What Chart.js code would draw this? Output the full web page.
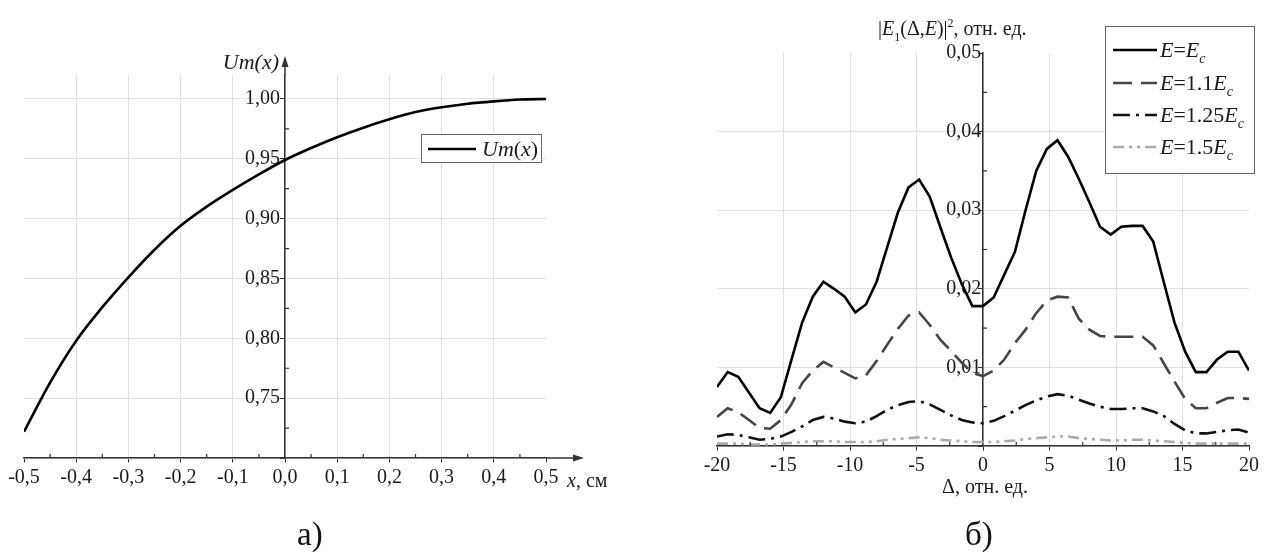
<!DOCTYPE html>
<html>
<head>
<meta charset="utf-8">
<script src="https://cdn.jsdelivr.net/npm/chart.js@4"></script>
<style>
  html, body { margin: 0; padding: 0; background: #fff; }
  #page { position: relative; width: 1274px; height: 560px; overflow: hidden; background: #fff;
          font-family: "Liberation Serif", "Times New Roman", serif; color: #111; }
  .box { position: absolute; top: 0; width: 637px; height: 560px; }
  #boxA { left: 0; }
  #boxB { left: 637px; }
  .cap { position: absolute; font-size: 33px; line-height: 1; }
</style>
</head>
<body>
<div id="page">
  <div class="box" id="boxA"><canvas id="chartA"></canvas></div>
  <div class="box" id="boxB"><canvas id="chartB"></canvas></div>
  <div class="cap" style="left:297px; top:518px;">а)</div>
  <div class="cap" style="left:965px; top:518px;">б)</div>
</div>
<script>
// ---------- данные, рисунок а) ----------
const xA = [-0.5, -0.45, -0.4, -0.35, -0.3, -0.25, -0.2, -0.15, -0.1, -0.05, 0,
            0.05, 0.1, 0.15, 0.2, 0.25, 0.3, 0.35, 0.4, 0.45, 0.5];
const umA = [0.722, 0.763, 0.798, 0.826, 0.851, 0.874, 0.894, 0.910, 0.924, 0.937, 0.949,
             0.959, 0.968, 0.976, 0.983, 0.989, 0.993, 0.996, 0.998, 0.9995, 1.000];

// ---------- данные, рисунок б) ----------
const deltaB = [-20, -19.2, -18.4, -17.6, -16.8, -16, -15.2, -14.4, -13.6, -12.8,
                -12, -11.2, -10.4, -9.6, -8.8, -8, -7.2, -6.4, -5.6, -4.8,
                -4, -3.2, -2.4, -1.6, -0.8, 0, 0.8, 1.6, 2.4, 3.2,
                4, 4.8, 5.6, 6.4, 7.2, 8, 8.8, 9.6, 10.4, 11.2,
                12, 12.8, 13.6, 14.4, 15.2, 16, 16.8, 17.6, 18.4, 19.2, 20];
const eC = [0.0075, 0.0094, 0.0088, 0.0068, 0.0048, 0.0042, 0.0062, 0.0110, 0.0157, 0.0190,
            0.0209, 0.0200, 0.0190, 0.0170, 0.0180, 0.0209, 0.0253, 0.0297, 0.0329, 0.0339,
            0.0317, 0.0278, 0.0240, 0.0206, 0.0178, 0.0178, 0.0189, 0.0218, 0.0247, 0.0300,
            0.0350, 0.0378, 0.0389, 0.0368, 0.0340, 0.0310, 0.0279, 0.0269, 0.0279, 0.0280,
            0.0280, 0.0260, 0.0208, 0.0157, 0.0120, 0.0094, 0.0094, 0.0110, 0.0120, 0.0120, 0.0096];
const e11 = [0.0037, 0.0048, 0.0043, 0.0033, 0.0023, 0.0022, 0.0033, 0.0053, 0.0080, 0.0096,
             0.0107, 0.0100, 0.0093, 0.0086, 0.0090, 0.0108, 0.0129, 0.0149, 0.0166, 0.0170,
             0.0154, 0.0135, 0.0121, 0.0106, 0.0093, 0.0089, 0.0096, 0.0110, 0.0131, 0.0148,
             0.0169, 0.0185, 0.0190, 0.0189, 0.0162, 0.0148, 0.0140, 0.0139, 0.0139, 0.0139,
             0.0139, 0.0128, 0.0105, 0.0082, 0.0060, 0.0048, 0.0048, 0.0055, 0.0061, 0.0061, 0.0060];
const e125 = [0.0012, 0.0015, 0.0014, 0.0011, 0.0008, 0.0009, 0.0012, 0.0018, 0.0025, 0.0033,
              0.0037, 0.0035, 0.0031, 0.0029, 0.0031, 0.0038, 0.0046, 0.0052, 0.0056, 0.0057,
              0.0053, 0.0046, 0.0039, 0.0033, 0.0030, 0.0029, 0.0032, 0.0038, 0.0045, 0.0052,
              0.0058, 0.0063, 0.0066, 0.0064, 0.0059, 0.0054, 0.0050, 0.0047, 0.0047, 0.0048,
              0.0048, 0.0044, 0.0038, 0.0028, 0.0020, 0.0016, 0.0016, 0.0018, 0.0020, 0.0021, 0.0017];
const e15 = [0.0003, 0.0003, 0.0003, 0.0002, 0.0002, 0.0002, 0.0003, 0.0004, 0.0005, 0.0006,
             0.0006, 0.0006, 0.0005, 0.0005, 0.0005, 0.0006, 0.0008, 0.0009, 0.0010, 0.0011,
             0.0010, 0.0008, 0.0007, 0.0006, 0.0005, 0.0005, 0.0005, 0.0006, 0.0007, 0.0009,
             0.0010, 0.0011, 0.0012, 0.0012, 0.0010, 0.0009, 0.0008, 0.0007, 0.0007, 0.0008,
             0.0008, 0.0007, 0.0006, 0.0005, 0.0004, 0.0003, 0.0003, 0.0003, 0.0003, 0.0003, 0.0003];

const SERIF = "'Liberation Serif', 'Times New Roman', serif";
const AXIS = '#333';
const GRID = '#e0e0e0';
const TXT = '#1a1a1a';

Chart.defaults.font.family = SERIF;
Chart.defaults.font.size = 20;
Chart.defaults.color = TXT;

const comma = (v, d) => (Math.abs(v) < 1e-9 ? 0 : v).toFixed(d).replace('.', ',');
const near = (a, b) => Math.abs(a - b) < 1e-9;

// текст с курсивом, индексами и степенями
function richText(ctx, x, y, parts, size, align) {
  const fontOf = p => {
    const s = (p.sub || p.sup) ? Math.round(size * 0.62) : size;
    return (p.i ? 'italic ' : '') + s + 'px ' + SERIF;
  };
  let w = 0;
  parts.forEach(p => { ctx.font = fontOf(p); w += ctx.measureText(p.t).width; });
  let cx = align === 'right' ? x - w : align === 'center' ? x - w / 2 : x;
  ctx.textAlign = 'left';
  ctx.textBaseline = 'alphabetic';
  ctx.fillStyle = TXT;
  parts.forEach(p => {
    ctx.font = fontOf(p);
    const dy = p.sub ? size * 0.28 : p.sup ? -size * 0.42 : 0;
    ctx.fillText(p.t, cx, y + dy);
    cx += ctx.measureText(p.t).width;
  });
}

// мелкие засечки между подписанными делениями
function minorTicks(ctx, chart, len) {
  const xs = chart.scales.x, ys = chart.scales.y;
  const ax = xs.getPixelForValue(0);
  const ay = ys.bottom;
  ctx.save();
  ctx.strokeStyle = AXIS;
  ctx.lineWidth = 1.2;
  ctx.beginPath();
  for (let i = 0; i < xs.ticks.length - 1; i++) {
    const px = xs.getPixelForValue((xs.ticks[i].value + xs.ticks[i + 1].value) / 2);
    ctx.moveTo(px, ay); ctx.lineTo(px, ay - len);
  }
  for (let i = 0; i < ys.ticks.length - 1; i++) {
    const py = ys.getPixelForValue((ys.ticks[i].value + ys.ticks[i + 1].value) / 2);
    ctx.moveTo(ax, py); ctx.lineTo(ax + len, py);
  }
  ctx.stroke();
  ctx.restore();
}

const decorA = {
  id: 'decorA',
  afterDraw(chart) {
    const ctx = chart.ctx;
    const area = chart.chartArea;
    const ax = chart.scales.x.getPixelForValue(0);
    const ay = area.bottom;
    minorTicks(ctx, chart, 4);
    ctx.save();
    ctx.strokeStyle = AXIS;
    ctx.fillStyle = AXIS;
    ctx.lineWidth = 1.5;
    // продолжение осей и стрелки
    ctx.beginPath();
    ctx.moveTo(ax, area.top); ctx.lineTo(ax, 64);
    ctx.moveTo(area.right, ay); ctx.lineTo(575, ay);
    ctx.stroke();
    ctx.beginPath();
    ctx.moveTo(ax, 56); ctx.lineTo(ax - 3.5, 67); ctx.lineTo(ax + 3.5, 67); ctx.closePath();
    ctx.moveTo(584, ay); ctx.lineTo(573, ay - 3.5); ctx.lineTo(573, ay + 3.5); ctx.closePath();
    ctx.fill();
    ctx.restore();

    richText(ctx, ax - 6, 69, [{ t: 'Um(x)', i: 1 }], 22, 'right');
    richText(ctx, 567, 487, [{ t: 'x', i: 1 }, { t: ', см' }], 20, 'left');

    // легенда
    ctx.save();
    ctx.fillStyle = '#fff';
    ctx.fillRect(421, 134, 120, 28);
    ctx.strokeStyle = '#666';
    ctx.lineWidth = 1;
    ctx.strokeRect(421.5, 134.5, 120, 28);
    const ds = chart.data.datasets[0];
    ctx.strokeStyle = ds.borderColor;
    ctx.lineWidth = ds.borderWidth;
    ctx.beginPath(); ctx.moveTo(428, 149); ctx.lineTo(476, 149); ctx.stroke();
    ctx.restore();
    richText(ctx, 482, 156, [{ t: 'Um', i: 1 }, { t: '(' }, { t: 'x', i: 1 }, { t: ')' }], 22, 'left');
  }
};

const legendB = [
  [{ t: 'E', i: 1 }, { t: '=' }, { t: 'E', i: 1 }, { t: 'c', i: 1, sub: 1 }],
  [{ t: 'E', i: 1 }, { t: '=1.1' }, { t: 'E', i: 1 }, { t: 'c', i: 1, sub: 1 }],
  [{ t: 'E', i: 1 }, { t: '=1.25' }, { t: 'E', i: 1 }, { t: 'c', i: 1, sub: 1 }],
  [{ t: 'E', i: 1 }, { t: '=1.5' }, { t: 'E', i: 1 }, { t: 'c', i: 1, sub: 1 }]
];

const decorB = {
  id: 'decorB',
  afterDraw(chart) {
    const ctx = chart.ctx;
    const ax = chart.scales.x.getPixelForValue(0);
    minorTicks(ctx, chart, 4);

    richText(ctx, 241, 35, [
      { t: '|' }, { t: 'E', i: 1 }, { t: '1', sub: 1 }, { t: '(Δ,' }, { t: 'E', i: 1 },
      { t: ')|' }, { t: '2', sup: 1 }, { t: ', отн. ед.' }
    ], 20, 'left');
    richText(ctx, ax + 2, 493, [{ t: 'Δ, отн. ед.' }], 20, 'center');

    // легенда
    ctx.save();
    ctx.fillStyle = '#fff';
    ctx.fillRect(468, 26, 149, 147);
    ctx.strokeStyle = '#666';
    ctx.lineWidth = 1;
    ctx.strokeRect(468.5, 26.5, 149, 147);
    ctx.restore();
    const rows = [50, 83, 115, 147];
    chart.data.datasets.forEach((ds, i) => {
      ctx.save();
      ctx.strokeStyle = ds.borderColor;
      ctx.lineWidth = ds.borderWidth;
      ctx.setLineDash(ds.borderDash || []);
      ctx.beginPath(); ctx.moveTo(476, rows[i]); ctx.lineTo(520, rows[i]); ctx.stroke();
      ctx.restore();
      richText(ctx, 523, rows[i] + 7, legendB[i], 22, 'left');
    });
  }
};

const chartA = new Chart(document.getElementById('chartA'), {
  type: 'line',
  data: {
    datasets: [{
      label: 'Um(x)',
      data: xA.map((x, i) => ({ x: x, y: umA[i] })),
      borderColor: '#000',
      borderWidth: 2.6,
      pointRadius: 0,
      cubicInterpolationMode: 'monotone',
      fill: false
    }]
  },
  options: {
    responsive: true,
    maintainAspectRatio: false,
    animation: false,
    layout: { padding: { left: 24, right: 91, top: 75, bottom: 102 } },
    plugins: { legend: { display: false }, tooltip: { enabled: false } },
    scales: {
      x: {
        type: 'linear',
        position: { y: 0.70 },
        min: -0.5, max: 0.5,
        ticks: { stepSize: 0.1, padding: 4, maxRotation: 0, callback: v => comma(v, 1) },
        grid: {
          color: c => (c.tick && (near(c.tick.value, -0.5) || near(c.tick.value, 0.5))) ? 'rgba(0,0,0,0)' : GRID,
          tickColor: AXIS, tickLength: 4
        },
        border: { color: AXIS, width: 1.5 }
      },
      y: {
        type: 'linear',
        position: { x: 0 },
        min: 0.70, max: 1.02,
        ticks: {
          stepSize: 0.05, includeBounds: false,
          // метка прижата к оси, отступ даёт пробел в конце
          callback: v => near(v, 0.70) ? '' : comma(v, 2) + ' '
        },
        grid: { color: GRID, tickColor: AXIS, tickLength: 4 },
        border: { color: AXIS, width: 1.5 }
      }
    }
  },
  plugins: [decorA]
});

const seriesB = (vals) => deltaB.map((d, i) => ({ x: d, y: vals[i] }));

const chartB = new Chart(document.getElementById('chartB'), {
  type: 'line',
  data: {
    datasets: [
      { label: 'E=Ec', data: seriesB(eC), borderColor: '#000', borderWidth: 2.6, pointRadius: 0, tension: 0 },
      { label: 'E=1.1Ec', data: seriesB(e11), borderColor: '#454545', borderWidth: 2.6, borderDash: [19, 9], pointRadius: 0, tension: 0 },
      { label: 'E=1.25Ec', data: seriesB(e125), borderColor: '#111', borderWidth: 2.6, borderDash: [17, 6, 3, 6], pointRadius: 0, tension: 0 },
      { label: 'E=1.5Ec', data: seriesB(e15), borderColor: '#aaa', borderWidth: 2.6, borderDash: [11, 5, 3, 5, 3, 5], pointRadius: 0, tension: 0 }
    ]
  },
  options: {
    responsive: true,
    maintainAspectRatio: false,
    animation: false,
    layout: { padding: { left: 80, right: 25, top: 53, bottom: 114 } },
    plugins: { legend: { display: false }, tooltip: { enabled: false } },
    scales: {
      x: {
        type: 'linear',
        position: { y: 0 },
        min: -20, max: 20,
        ticks: { stepSize: 5, padding: 4, maxRotation: 0, callback: v => String(Math.round(v)) },
        grid: {
          color: c => (c.tick && Math.abs(c.tick.value) === 20) ? 'rgba(0,0,0,0)' : GRID,
          tickColor: AXIS, tickLength: 4
        },
        border: { color: AXIS, width: 1.5 }
      },
      y: {
        type: 'linear',
        position: { x: 0 },
        min: 0, max: 0.05,
        ticks: { stepSize: 0.01, callback: v => near(v, 0) ? '' : comma(v, 2) + '\u200A' },
        grid: {
          color: c => (c.tick && near(c.tick.value, 0.05)) ? 'rgba(0,0,0,0)' : GRID,
          tickColor: AXIS, tickLength: 4
        },
        border: { color: AXIS, width: 1.5 }
      }
    }
  },
  plugins: [decorB]
});
</script>
</body>
</html>
